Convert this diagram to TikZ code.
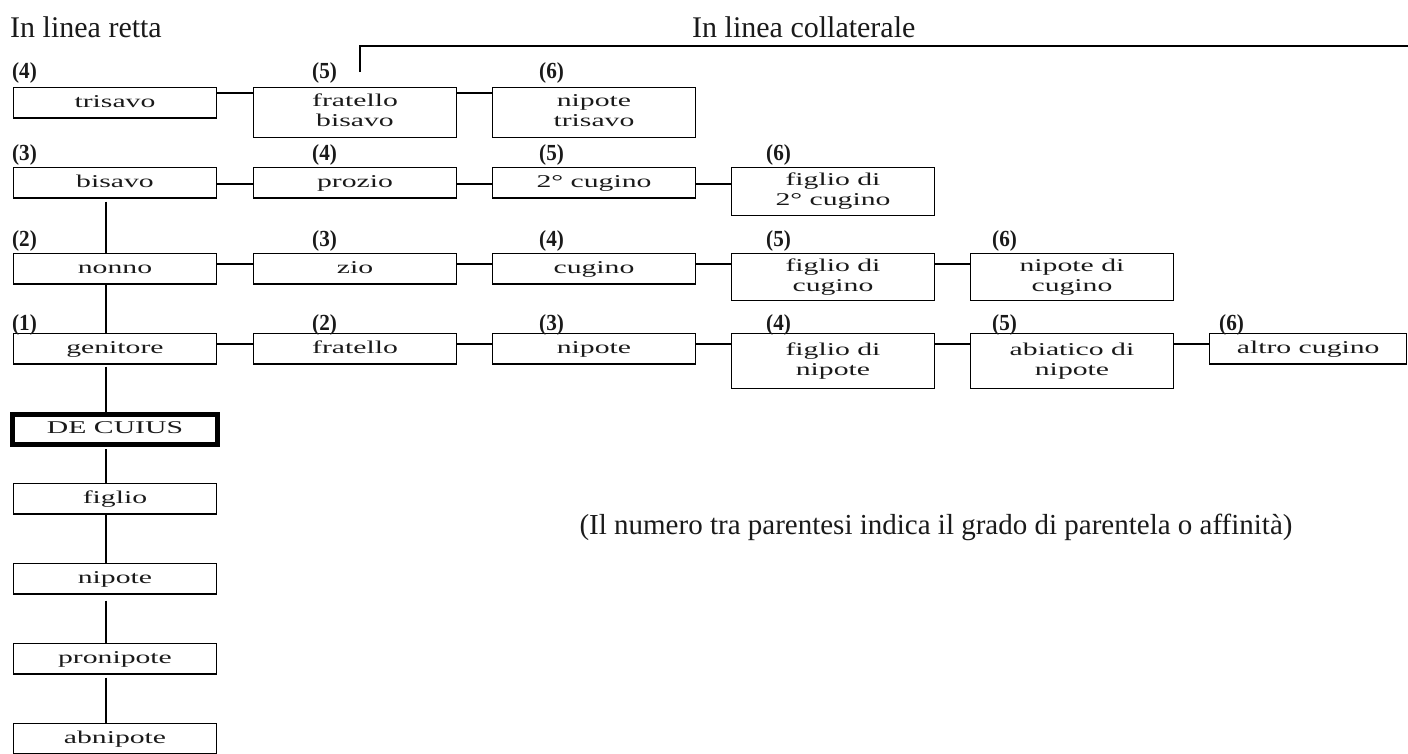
\documentclass[tikz,border=0pt]{standalone}
\usepackage{fontspec}
\setmainfont{Liberation Serif}
\newfontfamily\boxfamily[FakeStretch=1.65]{Liberation Serif}
\newfontfamily\gradefamily[FakeStretch=0.92]{Liberation Serif}
\definecolor{txt}{HTML}{1A1A1A}
\tikzset{
  kinbase/.style={draw=black, line width=1.4pt, inner sep=0pt, anchor=north west,
    minimum width=202.6pt, minimum height=30.1pt, align=center,
    font=\boxfamily\fontsize{18}{20}\selectfont, text=txt},
  kin/.style={kinbase, text height=12.5pt, text depth=4pt},
  kintwo/.style={kinbase, minimum height=#1},
  grade/.style={anchor=west, inner sep=0pt, font=\gradefamily\bfseries\fontsize{23}{24}\selectfont, text=txt},
  link/.style={line width=1.4pt},
  heading/.style={anchor=base west, inner sep=0pt, font=\fontsize{30}{34}\selectfont, text=txt},
}
\begin{document}
\begin{tikzpicture}[x=1pt,y=-1pt]
\useasboundingbox (0,0) rectangle (1408,753);
% headings
\node[heading] (hretta) at (10,37) {In linea retta};
\node[heading] (hcoll) at (692,37) {In linea collaterale};
\coordinate (brk) at (360,72);
\coordinate (brkend) at (1408,46);
\draw[line width=2.6pt] (brk) |- (brkend);
% row coordinates
\coordinate (vx) at (106,0);
\coordinate (rA) at (0,93);
\coordinate (rB) at (0,184);
\coordinate (rC) at (0,264);
\coordinate (rD) at (0,344);
% row A
\node[kin] (trisavo) at (13,87) {trisavo};
\node[kintwo=49.6pt] (fratbis) at (253,87) {\strut fratello\\\strut bisavo};
\node[kintwo=49.6pt] (niptris) at (492,87) {\strut nipote\\\strut trisavo};
% row B
\node[kin] (bisavo) at (13,167) {bisavo};
\node[kin] (prozio) at (253,167) {prozio};
\node[kin] (cugdue) at (492,167) {2° cugino};
\node[kintwo=47.6pt] (figcugdue) at (731,167) {\strut figlio di\\\strut 2° cugino};
% row C
\node[kin] (nonno) at (13,253) {nonno};
\node[kin] (zio) at (253,253) {zio};
\node[kin] (cugino) at (492,253) {cugino};
\node[kintwo=46.6pt] (figcug) at (731,253) {\strut figlio di\\\strut cugino};
\node[kintwo=46.6pt] (nipcug) at (970,253) {\strut nipote di\\\strut cugino};
% row D
\node[kin] (genitore) at (13,333) {genitore};
\node[kin] (fratello) at (253,333) {fratello};
\node[kin] (nipotec) at (492,333) {nipote};
\node[kintwo=54.6pt] (fignip) at (731,333) {\strut figlio di\\\strut nipote};
\node[kintwo=54.6pt] (abnip) at (970,333) {\strut abiatico di\\\strut nipote};
\node[kin, minimum width=197pt] (altro) at (1209,333) {altro cugino};
% direct line
\node[kin, line width=5pt, minimum width=205pt, minimum height=30pt] (decuius) at (10,412) {DE CUIUS};
\node[kin] (figlio) at (13,483) {figlio};
\node[kin] (nipote) at (13,563) {nipote};
\node[kin] (pronipote) at (13,643) {pronipote};
\node[kin] (abnipote) at (13,723) {abnipote};
% grade labels
\node[grade] (gA1) at (12,73) {(4)};
\node[grade] (gA2) at (312,73) {(5)};
\node[grade] (gA3) at (539,73) {(6)};
\node[grade] (gB1) at (12,155) {(3)};
\node[grade] (gB2) at (312,155) {(4)};
\node[grade] (gB3) at (539,155) {(5)};
\node[grade] (gB4) at (766,155) {(6)};
\node[grade] (gC1) at (12,241) {(2)};
\node[grade] (gC2) at (312,241) {(3)};
\node[grade] (gC3) at (539,241) {(4)};
\node[grade] (gC4) at (766,241) {(5)};
\node[grade] (gC5) at (992,241) {(6)};
\node[grade] (gD1) at (12,325) {(1)};
\node[grade] (gD2) at (312,325) {(2)};
\node[grade] (gD3) at (539,325) {(3)};
\node[grade] (gD4) at (766,325) {(4)};
\node[grade] (gD5) at (992,325) {(5)};
\node[grade] (gD6) at (1219,325) {(6)};
% horizontal connectors
\draw[link] (trisavo.east |- rA) -- (fratbis.west |- rA);
\draw[link] (fratbis.east |- rA) -- (niptris.west |- rA);
\draw[link] (bisavo.east |- rB) -- (prozio.west |- rB);
\draw[link] (prozio.east |- rB) -- (cugdue.west |- rB);
\draw[link] (cugdue.east |- rB) -- (figcugdue.west |- rB);
\draw[link] (nonno.east |- rC) -- (zio.west |- rC);
\draw[link] (zio.east |- rC) -- (cugino.west |- rC);
\draw[link] (cugino.east |- rC) -- (figcug.west |- rC);
\draw[link] (figcug.east |- rC) -- (nipcug.west |- rC);
\draw[link] (genitore.east |- rD) -- (fratello.west |- rD);
\draw[link] (fratello.east |- rD) -- (nipotec.west |- rD);
\draw[link] (nipotec.east |- rD) -- (fignip.west |- rD);
\draw[link] (fignip.east |- rD) -- (abnip.west |- rD);
\draw[link] (abnip.east |- rD) -- (altro.west |- rD);
% vertical line
\draw[link, shorten <=3pt] (bisavo.south -| vx) -- (nonno.north -| vx);
\draw[link] (nonno.south -| vx) -- (genitore.north -| vx);
\draw[link, shorten <=2pt] (genitore.south -| vx) -- (decuius.north -| vx);
\draw[link, shorten <=2pt] (decuius.south -| vx) -- (figlio.north -| vx);
\draw[link] (figlio.south -| vx) -- (nipote.north -| vx);
\draw[link, shorten <=6pt] (nipote.south -| vx) -- (pronipote.north -| vx);
\draw[link, shorten <=3pt] (pronipote.south -| vx) -- (abnipote.north -| vx);
% note
\node[font=\fontsize{29}{32}\selectfont, text=txt, inner sep=0pt] (nota) at (936,527) {(Il numero tra parentesi indica il grado di parentela o affinità)};
\end{tikzpicture}
\end{document}
